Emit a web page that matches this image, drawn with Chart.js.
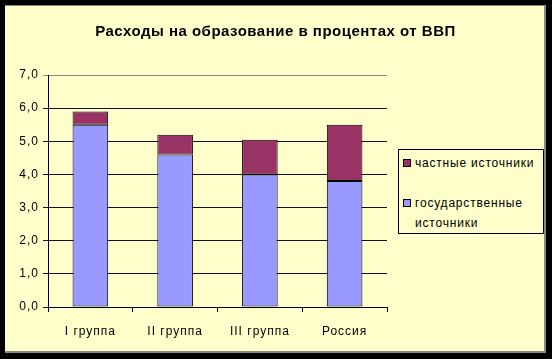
<!DOCTYPE html>
<html>
<head>
<meta charset="utf-8">
<script src="https://cdn.jsdelivr.net/npm/chart.js@4.4.1/dist/chart.umd.min.js"></script>
<style>
    body { margin: 0; background: #000; width: 552px; height: 359px; overflow: hidden; font-family: "Liberation Sans", Arial, sans-serif; }
    #frame { position: absolute; left: 5px; top: 5px; width: 541px; height: 348px; box-sizing: border-box;
        background: #ffffcc; border-top: 1px solid #8a8a80; border-right: 2px solid #8a8a80; border-bottom: 2px solid #8a8a80; }
    #chart { position: absolute; left: 5px; top: 5px; }
    #title { position: absolute; left: 5px; width: 541px; top: 22px; text-align: center; font-weight: bold;
        font-size: 15px; letter-spacing: 0.5px; color: #000; line-height: 18px; }
    #legend { position: absolute; left: 398px; top: 149px; width: 146px; height: 85px; box-sizing: border-box;
        border: 1px solid #000; background: #ffffcc; font-size: 12px; letter-spacing: 0.8px; color: #000; }
    .item { position: absolute; left: 4px; }
    .sw { position: absolute; left: 0; width: 8px; height: 8px; border: 1px solid #000; box-sizing: border-box; }
    .txt { position: absolute; left: 12px; line-height: 20px; white-space: nowrap; }
</style>
</head>
<body>
<div id="frame"></div>
<canvas id="chart" width="541" height="347"></canvas>
<div id="title">Расходы на образование в процентах от ВВП</div>
<div id="legend"></div>
<script>
const categories = ['I группа', 'II группа', 'III группа', 'Россия'];
const stateValues = [5.5, 4.6, 4.0, 3.8];
const privateValues = [0.4, 0.6, 1.05, 1.7];
const seriesNames = ['частные источники', 'государственные источники'];
const yTicks = [0, 1, 2, 3, 4, 5, 6, 7];

const blue = '#9999ff';
const purple = '#993366';

// legend drawn as html so the second label can wrap like in the original
const legend = document.getElementById('legend');
legend.innerHTML = `
    <div class="item" style="top:3px"><div class="sw" style="top:6px;background:${purple}"></div>
        <div class="txt" style="top:0">${seriesNames[0]}</div></div>
    <div class="item" style="top:43px"><div class="sw" style="top:6px;background:${blue}"></div>
        <div class="txt" style="top:0;width:125px;white-space:normal">${seriesNames[1]}</div></div>
`;

// wider letter spacing for the axis labels, like the old excel rendering
const spacing = {
    id: 'spacing',
    beforeDraw: (chart) => { chart.ctx.letterSpacing = '1px'; }
};

const ctx = document.getElementById('chart').getContext('2d');
new Chart(ctx, {
    type: 'bar',
    data: {
        labels: categories,
        datasets: [
            {
                label: seriesNames[1],
                data: stateValues,
                backgroundColor: blue,
                borderColor: '#000',
                borderWidth: 1,
                borderSkipped: false
            },
            {
                label: seriesNames[0],
                data: privateValues,
                backgroundColor: purple,
                borderColor: '#000',
                borderWidth: 1,
                borderSkipped: false
            }
        ]
    },
    plugins: [spacing],
    options: {
        responsive: false,
        animation: false,
        layout: { padding: { left: 0, right: 159, top: 70, bottom: 0 } },
        datasets: { bar: { categoryPercentage: 1, barPercentage: 0.42 } },
        scales: {
            x: {
                stacked: true,
                afterFit: (scale) => { scale.height = 45; },
                grid: { drawOnChartArea: false, drawTicks: true, tickLength: 5, color: '#000', offset: true },
                border: { color: '#000', width: 1 },
                ticks: { color: '#000', padding: 12, font: { family: 'Liberation Sans', size: 12 } }
            },
            y: {
                stacked: true,
                min: 0,
                max: 7,
                afterFit: (scale) => { scale.width = 43; },
                afterBuildTicks: (scale) => { scale.ticks = yTicks.map(v => ({ value: v })); },
                grid: {
                    tickLength: 5,
                    color: (c) => c.tick && c.tick.value === 7 ? '#8c8c8c' : '#111'
                },
                border: { color: '#000', width: 1 },
                ticks: {
                    color: '#000',
                    padding: 4,
                    font: { family: 'Liberation Sans', size: 12 },
                    callback: (v) => v.toFixed(1).replace('.', ',')
                }
            }
        },
        plugins: {
            legend: { display: false },
            tooltip: { enabled: false },
            title: { display: false }
        }
    }
});
</script>
</body>
</html>
